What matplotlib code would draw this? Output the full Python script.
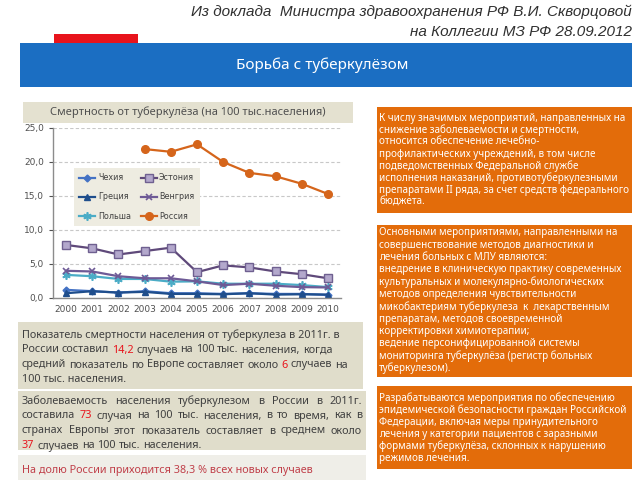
import matplotlib
matplotlib.use("Agg")
import matplotlib.pyplot as plt
from matplotlib.patches import Rectangle

# ---------------- data ----------------
years = [2000, 2001, 2002, 2003, 2004, 2005, 2006, 2007, 2008, 2009, 2010]
czech = [1.2, 1.0, 0.8, 1.0, 0.7, 0.7, 0.6, 0.7, 0.6, 0.6, 0.45]
greece = [0.7, 1.0, 0.8, 0.9, 0.6, 0.6, 0.55, 0.7, 0.5, 0.55, 0.5]
poland = [3.4, 3.2, 2.8, 2.8, 2.4, 2.45, 2.1, 2.1, 2.1, 1.9, 1.6]
estonia = [7.8, 7.3, 6.4, 6.9, 7.4, 3.8, 4.8, 4.5, 3.9, 3.5, 2.9]
hungary = [4.0, 3.9, 3.2, 2.9, 2.9, 2.45, 1.9, 2.1, 1.8, 1.6, 1.55]
russia_years = [2003, 2004, 2005, 2006, 2007, 2008, 2009, 2010]
russia = [21.9, 21.5, 22.6, 20.0, 18.4, 17.9, 16.8, 15.3]
yticks = [0, 5, 10, 15, 20, 25]

header1 = "Из доклада  Министра здравоохранения РФ В.И. Скворцовой"
header2 = "на Коллегии МЗ РФ 28.09.2012"
banner = "Борьба с туберкулёзом"
chart_title = "Смертность от туберкулёза (на 100 тыс.населения)"

left1 = [
    "Показатель смертности населения от туберкулеза в 2011г. в",
    "России составил *14,2* случаев на 100 тыс. населения, когда",
    "средний показатель по Европе составляет около *6* случаев на",
    "100 тыс. населения.",
]
left2 = [
    "Заболеваемость населения туберкулезом в России в 2011г.",
    "составила *73* случая на 100 тыс. населения, в то время, как в",
    "странах Европы этот показатель составляет в среднем около",
    "*37* случаев на 100 тыс. населения.",
]
left3 = "На долю России приходится 38,3 % всех новых случаев"

right1 = [
    "К числу значимых мероприятий, направленных на",
    "снижение заболеваемости и смертности,",
    "относится обеспечение лечебно-",
    "профилактических учреждений, в том числе",
    "подведомственных Федеральной службе",
    "исполнения наказаний, противотуберкулезными",
    "препаратами II ряда, за счет средств федерального",
    "бюджета.",
]
right2 = [
    "Основными мероприятиями, направленными на",
    "совершенствование методов диагностики и",
    "лечения больных с МЛУ являются:",
    "внедрение в клиническую практику современных",
    "культуральных и молекулярно-биологических",
    "методов определения чувствительности",
    "микобактериям туберкулеза  к  лекарственным",
    "препаратам, методов своевременной",
    "корректировки химиотерапии;",
    "ведение персонифицированной системы",
    "мониторинга туберкулёза (регистр больных",
    "туберкулезом).",
]
right3 = [
    "Разрабатываются мероприятия по обеспечению",
    "эпидемической безопасности граждан Российской",
    "Федерации, включая меры принудительного",
    "лечения у категории пациентов с заразными",
    "формами туберкулёза, склонных к нарушению",
    "режимов лечения.",
]

FAM = 'Noto Sans'

fig = plt.figure(figsize=(6.4, 4.8), dpi=100)
fig.patch.set_facecolor('white')
bg = fig.add_axes([0, 0, 1, 1])
bg.set_xlim(0, 640)
bg.set_ylim(480, 0)
bg.axis('off')
renderer = fig.canvas.get_renderer()

# header
HFAM = ['Liberation Sans Narrow', 'Liberation Sans', 'DejaVu Sans']
bg.text(632, 12, header1, ha='right', va='center', fontsize=11, style='italic',
        color='#303030', family=HFAM)
bg.text(632, 32, header2, ha='right', va='center', fontsize=11, style='italic',
        color='#303030', family=HFAM)
bg.add_patch(Rectangle((54, 34), 84, 9, color='#E8141C', lw=0))
bg.add_patch(Rectangle((20, 43), 612, 44, color='#1B6EC2', lw=0))
bg.text(322, 65, banner, ha='center', va='center', fontsize=11, fontweight='bold',
        color='white', family=FAM)

# chart title box
bg.add_patch(Rectangle((23, 102), 330, 21, color='#E4E1D0', lw=0))
bg.text(188, 112.5, chart_title, ha='center', va='center', fontsize=8, color='#505050', family=FAM)

# left boxes
bg.add_patch(Rectangle((18, 322), 345, 67, color='#E0DDCB', lw=0))
bg.add_patch(Rectangle((18, 391), 348, 59, color='#E0DDCB', lw=0))
bg.add_patch(Rectangle((18, 455), 348, 25, color='#EFEEE8', lw=0))

# right boxes
ORANGE = '#E36C0A'
bg.add_patch(Rectangle((377, 107), 255, 106, color=ORANGE, lw=0))
bg.add_patch(Rectangle((377, 225), 255, 152, color=ORANGE, lw=0))
bg.add_patch(Rectangle((377, 386), 255, 83, color=ORANGE, lw=0))


def measure(s, **kw):
    t = bg.text(0, 0, s, **kw)
    w = t.get_window_extent(renderer).width
    t.remove()
    return w


def draw_line(x0, y, line, size, color, hi_color, width=None, justify=False):
    kw = dict(fontsize=size, family=FAM, va='center', ha='left')
    if '*' not in line and not justify:
        bg.text(x0, y, line, color=color, **kw)
        return
    words = line.split()
    sp = 0.26 * size * 100 / 72.0
    items = []
    for w in words:
        hi = w.startswith('*')
        txt = w.replace('*', '')
        kk = dict(kw)
        if hi:
            kk['fontweight'] = 'bold'
        items.append((txt, hi, measure(txt, **kk), kk))
    total = sum(i[2] for i in items)
    if justify and width is not None and len(items) > 1:
        gap = (width - total) / (len(items) - 1)
    else:
        gap = sp
    x = x0
    for txt, hi, w, kk in items:
        bg.text(x, y, txt, color=hi_color if hi else color, **kk)
        x += w + gap


LS = 7.8
for i, ln in enumerate(left1):
    draw_line(22, 335 + i * 15, ln, LS, '#404040', '#E8141C')
for i, ln in enumerate(left2):
    draw_line(22, 401 + i * 15, ln, LS, '#404040', '#E8141C', width=340,
              justify=(i < len(left2) - 1))
draw_line(22, 470, left3, LS, '#C0404A', '#C0404A')

RS = 7.1
for i, ln in enumerate(right1):
    draw_line(379, 118 + i * 12, ln, RS, 'white', 'white')
for i, ln in enumerate(right2):
    draw_line(379, 233 + i * 12.3, ln, RS, 'white', 'white')
for i, ln in enumerate(right3):
    draw_line(379, 398 + i * 12, ln, RS, 'white', 'white')

# ---------------- chart ----------------
ax = fig.add_axes([53 / 640, 1 - 298 / 480, (341 - 53) / 640, (298 - 128) / 480])
ax.set_facecolor('none')
ax.set_xlim(1999.5, 2010.5)
ax.set_ylim(0, 25)
ax.set_yticks(yticks)
ax.set_yticklabels([f"{v:.1f}".replace('.', ',') for v in yticks])
ax.set_xticks(years)
ax.set_xticklabels([str(y) for y in years])
ax.tick_params(axis='both', labelsize=6.5, colors='#505050', length=3, width=0.8)
ax.tick_params(axis='x', length=0, pad=5)
for s in ['top', 'right']:
    ax.spines[s].set_visible(False)
for s in ['left', 'bottom']:
    ax.spines[s].set_color('#8C8C8C')
    ax.spines[s].set_linewidth(1.0)
ax.grid(axis='y', color='#C8C8C8', linestyle=(0, (3, 2)), linewidth=0.8)
ax.set_axisbelow(True)

h_cz, = ax.plot(years, czech, color='#4472C4', marker='D', ms=3.5, lw=1.6, label='Чехия')
h_gr, = ax.plot(years, greece, color='#1F4E8C', marker='^', ms=4.5, lw=1.6, label='Греция')
h_pl, = ax.plot(years, poland, color='#4BACC6', marker=(6, 2, 0), ms=6, mew=1.2, lw=1.6, label='Польша')
h_hu, = ax.plot(years, hungary, color='#6E5A96', marker='x', ms=5, mew=1.2, lw=1.6, label='Венгрия')
h_es, = ax.plot(years, estonia, color='#5F497A', marker='s', ms=5.5, mfc='#B3A8CC',
                mec='#6F6090', lw=1.6, label='Эстония')
h_ru, = ax.plot(russia_years, russia, color='#D5651B', marker='o', ms=5.5, lw=1.6, label='Россия')

leg = ax.legend(handles=[h_cz, h_gr, h_pl, h_es, h_hu, h_ru], ncol=2,
                loc='upper left', bbox_to_anchor=(0.058, 0.79), fontsize=5.8,
                frameon=True, fancybox=False, framealpha=1, edgecolor='none',
                facecolor='#EEECE1', handlelength=2.0, columnspacing=1.2,
                labelspacing=1.25, borderpad=0.7, handletextpad=0.3)
for t in leg.get_texts():
    t.set_color('#404040')

fig.savefig('out.png', dpi=100)
